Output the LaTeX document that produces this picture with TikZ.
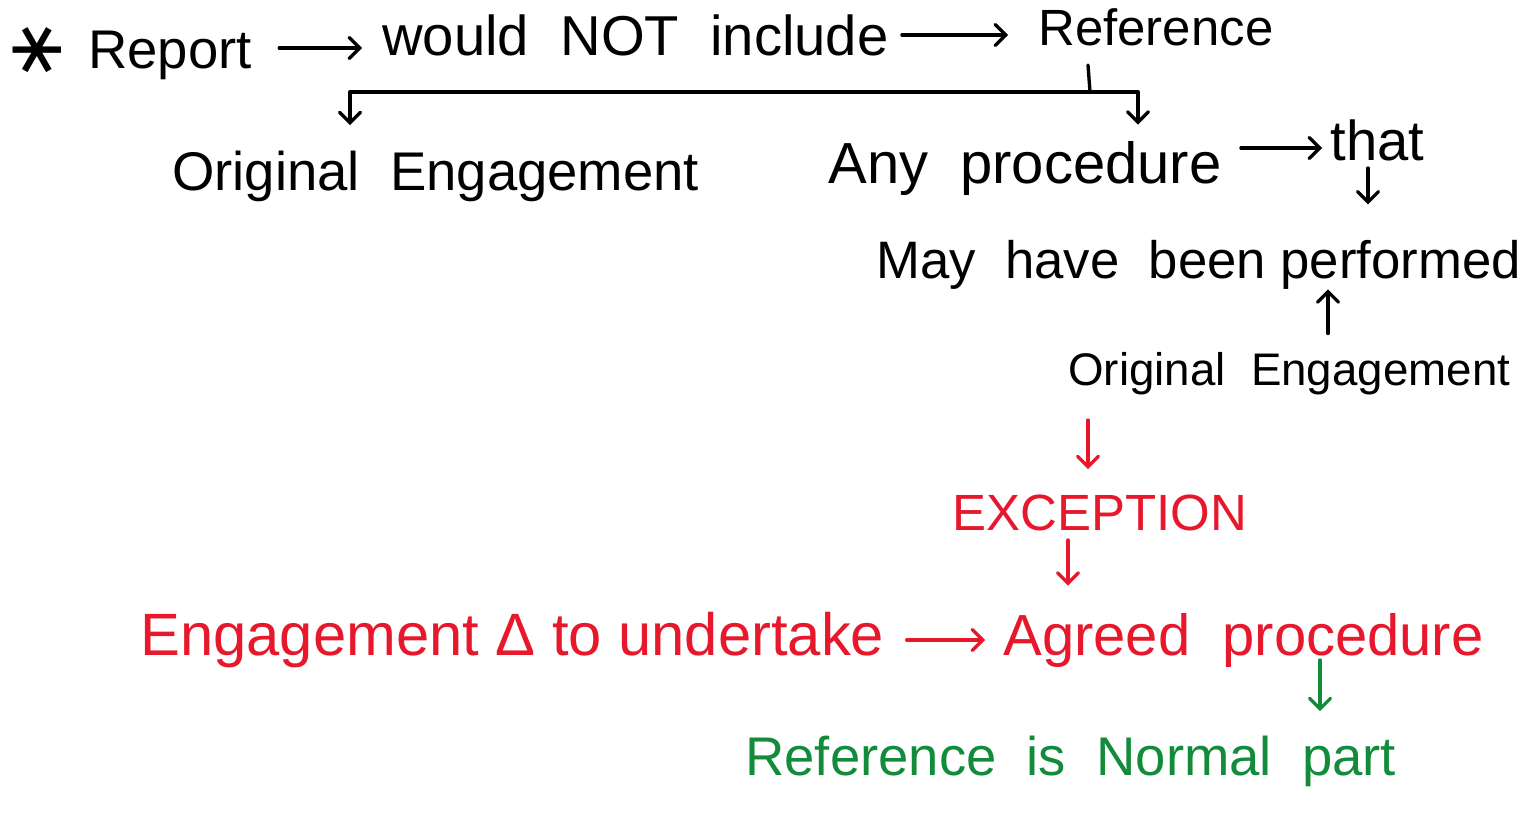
\documentclass[tikz,border=0pt]{standalone}
\usepackage{fontspec}
\setmainfont{Liberation Sans}
\newfontfamily\symfont{DejaVu Sans}
\usetikzlibrary{arrows.meta}
\newcommand\fsz[1]{\fontsize{#1}{#1}\selectfont}
\definecolor{inkred}{RGB}{232,24,44}
\definecolor{inkgreen}{RGB}{18,140,58}
\begin{document}
\begin{tikzpicture}[x=0.02cm,y=-0.02cm,
  txt/.style={inner sep=0pt, anchor=base west},
  ink/.style={line width=1.9pt, line cap=round, line join=round},
  arr/.style={ink, -{Straight Barb[length=6pt,width=12pt,line cap=round]}},
  arrR/.style={arr, inkred},
  arrG/.style={arr, inkgreen}]
\useasboundingbox (0,0) rectangle (1533,818);

% first line
\node[font=\symfont\fsz{44}, rotate=90, inner sep=0pt] (star) at (37,50) {∗};
\node[txt,font=\fsz{31}] (report) at (88,68) {Report};
\node[txt,font=\fsz{32}] (would) at (382,55) {would~~NOT~~include};
\node[txt,font=\fsz{29}] (refr) at (1038,45) {Reference};

% second line
\node[txt,font=\fsz{31}] (origA) at (172,190) {Original~~Engagement};
\node[txt,font=\fsz{33}] (anyp) at (828,183) {Any~~procedure};
\node[txt,font=\fsz{32}] (that) at (1330,160) {that};

\node[txt,font=\fsz{30}] (may) at (876,278) {May~~have~~been performed};
\node[txt,font=\fsz{26}] (origB) at (1068,385) {Original~~Engagement};

% red part
\node[txt,font=\fsz{29},text=inkred] (exc) at (952,530) {EXCEPTION};
\node[txt,font=\fsz{34},text=inkred] (eng) at (140,655) {Engagement Δ to undertake};
\node[txt,font=\fsz{33},text=inkred] (agreed) at (1003,655) {Agreed~~procedure};

% green part
\node[txt,font=\fsz{31},text=inkgreen] (normal) at (745,775) {Reference~~is~~Normal~~part};

% connectors, black
\draw[arr] ([shift={(27,-20)}]report.base east) -- ([shift={(-20,-7)}]would.base west);
\draw[arr] ([shift={(13,-20)}]would.base east) -- ([shift={(-30,-10)}]refr.base west);
\coordinate (bus) at ([shift={(52,47)}]refr.base west);
\draw[ink] ([shift={(50,20)}]refr.base west) -- (bus);
\draw[arr] (bus) -| ([shift={(178,-25)}]origA.north west);
\draw[arr] (bus) -| ([shift={(310,-16)}]anyp.north west);
\draw[arr] ([shift={(19,-35)}]anyp.base east) -- ([shift={(-8,-12)}]that.base west);
\draw[arr, shorten >=0.7cm] ([shift={(38,8)}]that.base west) -- ([shift={(38,0)}]that.base west |- may.north);
\draw[arr, shorten <=0.36cm] ([shift={(260,0)}]origB.north west) -- ([shift={(260,0)}]origB.north west |- may.south);

% connectors, red
\draw[arrR, shorten >=0.5cm] ([shift={(20,35)}]origB.base west) -- ([shift={(20,0)}]origB.base west |- exc.north);
\draw[arrR, shorten >=0.54cm] ([shift={(116,10)}]exc.base west) -- ([shift={(116,0)}]exc.base west |- agreed.north);
\draw[arrR] ([shift={(22,-15)}]eng.base east) -- ([shift={(-18,-15)}]agreed.base west);

% connector, green
\draw[arrG, shorten >=0.48cm] ([shift={(317,5)}]agreed.base west) -- ([shift={(317,0)}]agreed.base west |- normal.north);
\end{tikzpicture}
\end{document}
